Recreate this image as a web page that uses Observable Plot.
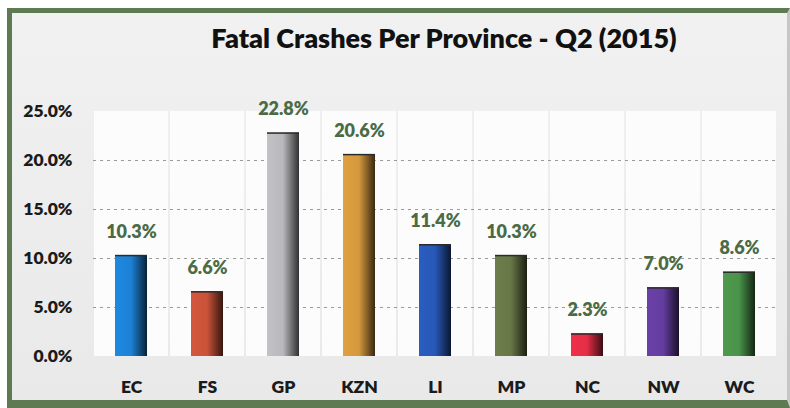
<!DOCTYPE html>
<html><head><meta charset="utf-8">
<script src="https://cdn.jsdelivr.net/npm/d3@7"></script>
<script src="https://cdn.jsdelivr.net/npm/@observablehq/plot@0.6"></script>
<style>
html,body{margin:0;padding:0;background:#fff;width:790px;height:408px;overflow:hidden;font-family:Lato,"Open Sans",sans-serif;}
#frame{position:absolute;left:7px;top:8px;width:783px;height:400px;box-sizing:border-box;border-left:5px solid #5d7a52;border-top:5px solid #5d7a52;border-bottom:8px solid #5d7a52;border-right:3px solid #c6c6c6;background:linear-gradient(#f1f1f1,#e9e9e9);}
#title{position:absolute;left:132px;top:11px;width:600px;text-align:center;font-size:27px;line-height:27px;font-weight:800;color:#111;white-space:nowrap;}
#chart{position:absolute;left:0;top:67px;}
</style>
</head><body>
<div id="frame">
  <div id="title">Fatal Crashes Per Province - Q2 (2015)</div>
  <div id="chart"></div>
</div>
<script>
const provinces = ["EC","FS","GP","KZN","LI","MP","NC","NW","WC"];
const shares = [10.3, 6.6, 22.8, 20.6, 11.4, 10.3, 2.3, 7.0, 8.6];
const barColors = ["#1e88e0","#d4573c","#c2c2c6","#e0a040","#2a5cc0","#6d7d4a","#f0304a","#6a40a8","#4e9a4e"];
const yTicks = [0, 5, 10, 15, 20, 25];
const gridValues = [5, 10, 15, 20];

const rows = provinces.map((p, i) => ({province: p, share: shares[i], color: barColors[i]}));
const yMax = yTicks[yTicks.length - 1];

const chart = Plot.plot({
  width: 775,
  height: 320,
  marginLeft: 81,
  marginRight: 10,
  marginTop: 31,
  marginBottom: 44,
  style: {background: "transparent", fontFamily: "Lato, 'Open Sans', sans-serif"},
  x: {domain: provinces, padding: 0},
  y: {domain: [0, yMax]},
  color: {type: "identity"},
  marks: [
    Plot.barY(provinces, {x: d => d, y1: 0, y2: yMax, fill: "#fcfcfc", insetLeft: 1, insetRight: 1}),
    Plot.ruleY(gridValues, {stroke: "#7a7a7a", strokeDasharray: "3,4", strokeOpacity: 0.75}),
    Plot.barY(rows, {x: "province", y: "share", fill: "color", insetLeft: 22, insetRight: 22}),
    Plot.barY(rows, {x: "province", y: "share", fill: "url(#shade)", insetLeft: 22, insetRight: 22}),
    Plot.tickY(rows, {x: "province", y: "share", stroke: "#2a2a2a", strokeWidth: 1.5, insetLeft: 22, insetRight: 22}),
    Plot.text(rows, {x: "province", y: "share", text: d => d.share.toFixed(1) + "%", dy: -18, lineAnchor: "bottom", fill: "#4a6b45", fontSize: 18, fontWeight: 800}),
    Plot.axisY({ticks: yTicks, tickFormat: d => d.toFixed(1) + "%", tickSize: 0, tickPadding: 21, fontSize: 17.5, fontWeight: 800, color: "#1b1b1b", label: null}),
    Plot.axisX({tickSize: 0, tickPadding: 24, fontSize: 17.5, fontWeight: 800, color: "#1b1b1b", label: null})
  ]
});

const defs = d3.select(chart).insert("defs", ":first-child");
const g = defs.append("linearGradient").attr("id", "shade").attr("x1", 0).attr("x2", 1).attr("y1", 0).attr("y2", 0);
g.append("stop").attr("offset", "0%").attr("stop-color", "#000").attr("stop-opacity", 0);
g.append("stop").attr("offset", "50%").attr("stop-color", "#000").attr("stop-opacity", 0.05);
g.append("stop").attr("offset", "100%").attr("stop-color", "#000").attr("stop-opacity", 0.75);

document.getElementById("chart").appendChild(chart);
</script>
</body></html>
